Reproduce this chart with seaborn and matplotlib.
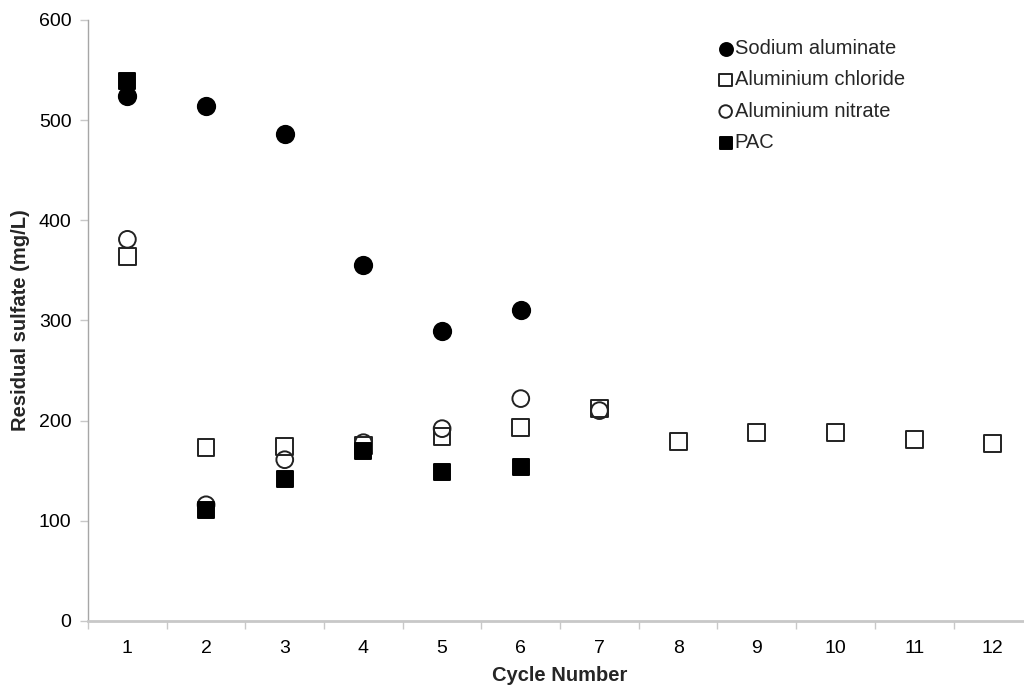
import numpy as np
import pandas as pd
import matplotlib
matplotlib.use("Agg")
import matplotlib.pyplot as plt
import seaborn as sns
from matplotlib.ticker import FixedLocator

cycles = [1, 2, 3, 4, 5, 6, 7, 8, 9, 10, 11, 12]
sodium_aluminate = [524, 514, 486, 355, 289, 310]
aluminium_chloride = [364, 173, 174, 175, 184, 193, 212, 179, 188, 188, 181, 177]
aluminium_nitrate = [381, 116, 161, 178, 192, 222, 210]
pac = [539, 111, 142, 170, 149, 154]

series_names = ["Sodium aluminate", "Aluminium chloride", "Aluminium nitrate", "PAC"]
series_values = [sodium_aluminate, aluminium_chloride, aluminium_nitrate, pac]

rows = []
for name, vals in zip(series_names, series_values):
    for c, v in zip(cycles, vals):
        rows.append({"cycle": c, "sulfate": v, "coagulant": name})
df = pd.DataFrame(rows)

sns.set_theme(style="white")
plt.rcParams["font.family"] = ["Liberation Sans", "DejaVu Sans"]

fig = plt.figure(figsize=(10.24, 6.88), dpi=100)
ax = fig.add_axes([0.086, 0.0974, 0.922, 0.8736])

styles = {
    "Sodium aluminate": dict(marker="o", facecolor="black", edgecolor="black", s=155),
    "Aluminium chloride": dict(marker="s", facecolor="none", edgecolor="#222222", s=145),
    "Aluminium nitrate": dict(marker="o", facecolor="none", edgecolor="#222222", s=145),
    "PAC": dict(marker="s", facecolor="black", edgecolor="black", s=145),
}

for name in series_names:
    st = styles[name]
    sub = df[df["coagulant"] == name]
    sns.scatterplot(data=sub, x="cycle", y="sulfate", ax=ax,
                    marker=st["marker"], s=st["s"],
                    facecolor=st["facecolor"], edgecolor=st["edgecolor"],
                    linewidth=1.4, label=name, zorder=3)

ax.set_xlim(0.5, 12.5)
ax.set_ylim(0, 600)
ax.set_xticks(cycles)
ax.set_xticklabels([str(c) for c in cycles])
ax.xaxis.set_minor_locator(FixedLocator(np.arange(0.5, 13, 1)))
ax.set_yticks(np.arange(0, 601, 100))

for side in ["top", "right"]:
    ax.spines[side].set_visible(False)
ax.spines["left"].set_color("#a6a6a6")
ax.spines["bottom"].set_color("#c8c8c8")
ax.spines["bottom"].set_linewidth(2.0)
ax.spines["left"].set_linewidth(1.0)

ax.tick_params(axis="x", which="major", length=0, pad=14, labelsize=14, colors="black")
ax.tick_params(axis="x", which="minor", bottom=True, length=6, width=1.0, color="#c8c8c8", direction="out")
ax.tick_params(axis="y", which="major", left=True, length=6, width=1.0, color="#c8c8c8",
               direction="out", pad=6, labelsize=14, labelcolor="black")

ax.set_xlabel("Cycle Number", fontsize=14.5, fontweight="bold", labelpad=6)
ax.set_ylabel("Residual sulfate (mg/L)", fontsize=14.5, fontweight="bold", labelpad=6)

leg = ax.legend(loc="upper left", bbox_to_anchor=(0.654, 0.982), frameon=False,
                fontsize=14.5, handletextpad=-0.15, labelspacing=0.62,
                markerscale=0.75, borderaxespad=0.0, handlelength=1.2)

fig.savefig("out.png", dpi=100)
